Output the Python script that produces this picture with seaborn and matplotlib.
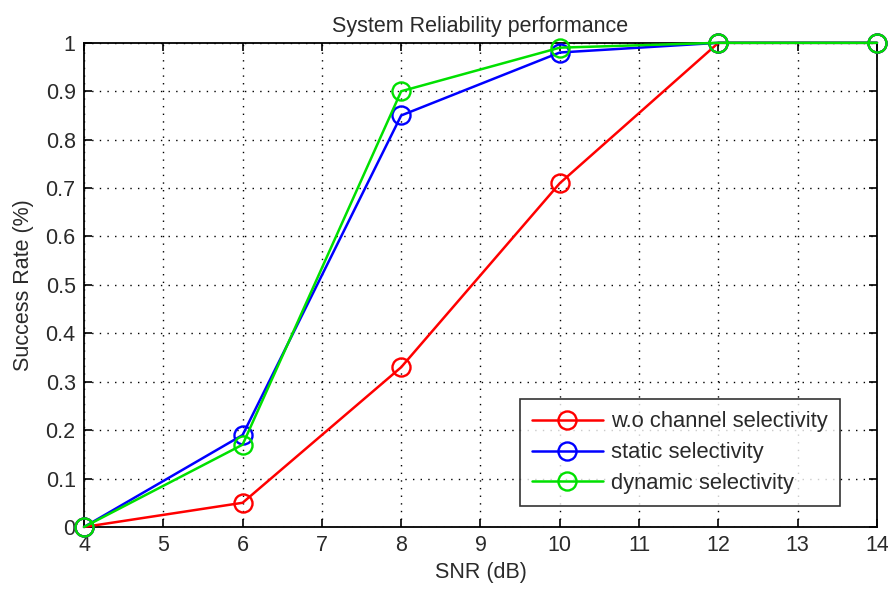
import matplotlib
matplotlib.use("Agg")
import matplotlib.pyplot as plt
import seaborn as sns
import pandas as pd
from matplotlib.ticker import FuncFormatter

snr_db = [4, 6, 8, 10, 12, 14]
wo_channel_selectivity = [0.0, 0.05, 0.33, 0.71, 1.0, 1.0]
static_selectivity = [0.0, 0.19, 0.85, 0.98, 1.0, 1.0]
dynamic_selectivity = [0.0, 0.17, 0.90, 0.99, 1.0, 1.0]

series_names = ["w.o channel selectivity", "static selectivity", "dynamic selectivity"]
series_values = [wo_channel_selectivity, static_selectivity, dynamic_selectivity]
series_colors = ["#ff0000", "#0000ff", "#00e000"]

sns.set_theme(style="white")
plt.rcParams["font.family"] = ["Liberation Sans", "DejaVu Sans"]
plt.rcParams["font.size"] = 15.5

fig = plt.figure(figsize=(8.88, 5.89), dpi=100)
ax = fig.add_axes([0.0946, 0.1053, 0.893, 0.822])

for name, vals, col in zip(series_names, series_values, series_colors):
    df = pd.DataFrame({"SNR": snr_db, "rate": vals})
    sns.lineplot(data=df, x="SNR", y="rate", ax=ax, color=col, label=name,
                 linewidth=1.8, marker="o", markersize=13,
                 markerfacecolor="none", markeredgecolor=col,
                 markeredgewidth=1.7, clip_on=False, zorder=5)

ax.set_xlim(4, 14)
ax.set_ylim(0, 1)
ax.set_xticks(range(4, 15))
ax.set_yticks([i / 10 for i in range(11)])
ax.yaxis.set_major_formatter(FuncFormatter(lambda v, p: f"{v:g}"))

ax.grid(True, color="black", linestyle=(0, (1, 4.5)), linewidth=1.0)
ax.set_axisbelow(True)
for sp in ax.spines.values():
    sp.set_visible(True)
    sp.set_color("black")
    sp.set_linewidth(1.3)
    sp.set_zorder(4)

ax.tick_params(axis="both", which="both", direction="in", length=6, width=1.2,
               top=True, right=True, bottom=True, left=True,
               labelsize=15.5, colors="black", pad=6)
for lab in ax.get_xticklabels() + ax.get_yticklabels():
    lab.set_color("#2a2a2a")

ax.set_xlabel("SNR (dB)", fontsize=15.5, color="#2a2a2a", labelpad=4)
ax.set_ylabel("Success Rate (%)", fontsize=15.5, color="#2a2a2a", labelpad=8)
ax.set_title("System Reliability performance", fontsize=15.5, color="#2a2a2a", pad=8)

leg = ax.legend(loc="lower right", bbox_to_anchor=(0.9535, 0.043), fontsize=15.8,
                frameon=True, fancybox=False, edgecolor="black",
                handlelength=3.2, handletextpad=0.4, borderpad=0.55,
                labelspacing=0.45, borderaxespad=0.0)
leg.get_frame().set_linewidth(1.2)
for t in leg.get_texts():
    t.set_color("#2a2a2a")

fig.savefig("out.png", dpi=100, facecolor="white")
